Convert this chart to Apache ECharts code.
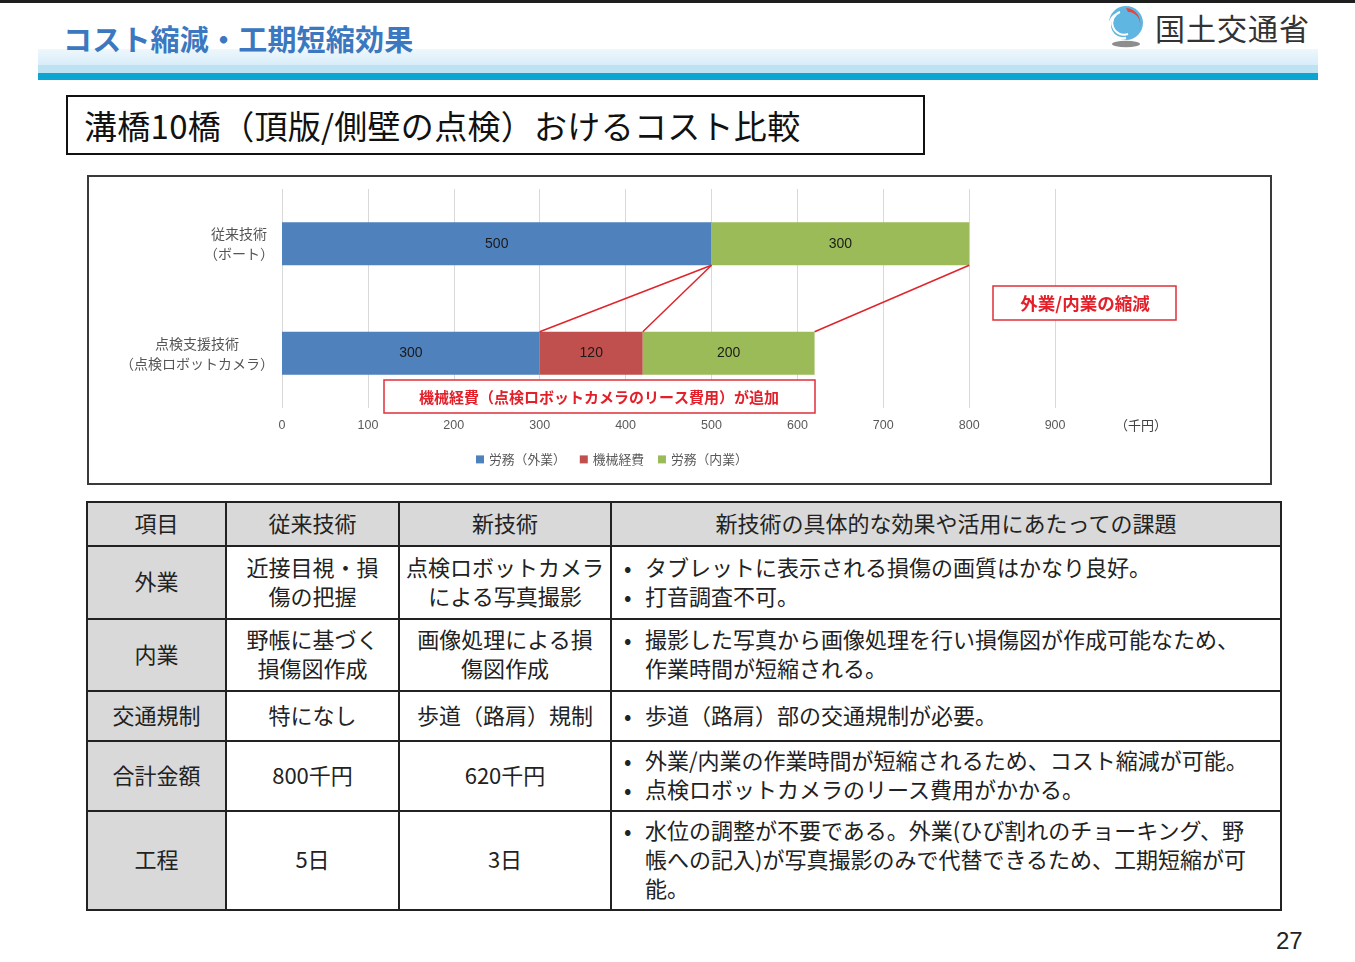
<!DOCTYPE html>
<html>
<head>
<meta charset="utf-8">
<script src="https://cdn.jsdelivr.net/npm/echarts@6/dist/echarts.min.js"></script>
<style>
  html, body { margin:0; padding:0; background:#fff; }
  body { width:1355px; height:962px; position:relative; overflow:hidden; font-family:"Noto Sans CJK JP", sans-serif; color:#222; }
  .abs { position:absolute; }
  #topline { left:0; top:0; width:1355px; height:3px; background:#1e1e1e; }
  #band1 { left:38px; top:49px; width:1280px; height:16px; background:linear-gradient(#eef7fc,#d8edf9); }
  #band2 { left:38px; top:65px; width:1280px; height:8px; background:#bde3f2; }
  #band3 { left:38px; top:73px; width:1280px; height:7px; background:#0aa6d1; }
  #title { left:63px; top:20px; font-size:29px; font-weight:bold; color:#3b78c0; line-height:36px; white-space:nowrap; letter-spacing:0.2px; }
  #logoText { left:1155px; top:8px; font-size:30px; color:#333; line-height:38px; white-space:nowrap; letter-spacing:1px; }
  #logoIcon { left:1106px; top:3px; }
  #subBox { left:66px; top:95px; width:855px; height:56px; border:2px solid #111; }
  #subTitle { left:84px; top:102px; font-size:33px; line-height:46px; color:#111; white-space:nowrap; letter-spacing:0.3px; }
  #chartBox { left:87px; top:175px; width:1181px; height:306px; border:2px solid #3a3a3a; }
  #chart { left:0; top:0; width:1355px; height:962px; }
  table { position:absolute; left:86px; top:501px; border-collapse:collapse; table-layout:fixed; font-size:22px; color:#222; }
  td { border:2px solid #222; text-align:center; vertical-align:middle; line-height:29px; padding:0 0 4px 0; white-space:nowrap; }
  td.g { background:#d9d9d9; }
  td.t { text-align:left; }
  .b { position:relative; padding-left:33px; }
  .b::before { content:"•"; position:absolute; left:12px; top:0; }
  #page { left:1276px; top:926px; font-size:24px; line-height:30px; color:#222; font-family:"Liberation Sans", sans-serif; }
</style>
</head>
<body>
<div id="topline" class="abs"></div>
<div id="band1" class="abs"></div>
<div id="band2" class="abs"></div>
<div id="band3" class="abs"></div>
<div id="title" class="abs">コスト縮減・工期短縮効果</div>
<svg id="logoIcon" class="abs" width="42" height="46" viewBox="0 0 42 46">
  <circle cx="20" cy="20" r="17" fill="#5fb6e0"/>
  <path d="M9 12 A13 13 0 0 0 20 35" stroke="#fff" stroke-width="2.5" fill="none"/>
  <path d="M14 9 A11 11 0 0 0 22 31" stroke="#fff" stroke-width="2" fill="none"/>
  <path d="M20 5 A15 15 0 0 1 33 26 A12 12 0 0 0 22 9 Z" fill="#e8453c"/>
  <ellipse cx="20" cy="41" rx="14" ry="3.2" fill="#8e8e8e"/>
</svg>
<div id="logoText" class="abs">国土交通省</div>
<div id="subBox" class="abs"></div>
<div id="subTitle" class="abs">溝橋10橋（頂版/側壁の点検）おけるコスト比較</div>
<div id="chartBox" class="abs"></div>

<table id="tbl">
  <colgroup><col style="width:139px"><col style="width:173px"><col style="width:212px"><col style="width:670px"></colgroup>
  <tr style="height:44px"><td class="g">項目</td><td class="g">従来技術</td><td class="g">新技術</td><td class="g">新技術の具体的な効果や活用にあたっての課題</td></tr>
  <tr style="height:73px"><td class="g">外業</td><td>近接目視・損<br>傷の把握</td><td>点検ロボットカメラ<br>による写真撮影</td><td class="t"><div class="b">タブレットに表示される損傷の画質はかなり良好。</div><div class="b">打音調査不可。</div></td></tr>
  <tr style="height:72px"><td class="g">内業</td><td>野帳に基づく<br>損傷図作成</td><td>画像処理による損<br>傷図作成</td><td class="t"><div class="b">撮影した写真から画像処理を行い損傷図が作成可能なため、<br>作業時間が短縮される。</div></td></tr>
  <tr style="height:50px"><td class="g">交通規制</td><td>特になし</td><td>歩道（路肩）規制</td><td class="t"><div class="b">歩道（路肩）部の交通規制が必要。</div></td></tr>
  <tr style="height:70px"><td class="g">合計金額</td><td id="totOld">800千円</td><td id="totNew">620千円</td><td class="t"><div class="b">外業/内業の作業時間が短縮されるため、コスト縮減が可能。</div><div class="b">点検ロボットカメラのリース費用がかかる。</div></td></tr>
  <tr style="height:99px"><td class="g">工程</td><td>5日</td><td>3日</td><td class="t"><div class="b">水位の調整が不要である。外業(ひび割れのチョーキング、野<br>帳への記入)が写真撮影のみで代替できるため、工期短縮が可<br>能。</div></td></tr>
</table>
<div id="page" class="abs">27</div>
<div id="chart" class="abs"></div>

<script>
// ---- data ----
const categories = ['従来技術\n（ボート）', '点検支援技術\n（点検ロボットカメラ）'];
const seriesNames = ['労務（外業）', '機械経費', '労務（内業）'];
const fieldWork = [500, 300];      // 労務（外業）
const machineCost = ['-', 120];    // 機械経費
const officeWork = [300, 200];     // 労務（内業）
const xTickMax = 1000;
const xTickStep = 100;
const unitLabel = '（千円）';
const noteAdded = '機械経費（点検ロボットカメラのリース費用）が追加';
const noteReduced = '外業/内業の縮減';

const num = v => (typeof v === 'number' ? v : 0);
const totals = categories.map((_, i) => num(fieldWork[i]) + num(machineCost[i]) + num(officeWork[i]));
document.getElementById('totOld').textContent = totals[0] + '千円';
document.getElementById('totNew').textContent = totals[1] + '千円';

// connector lines: [x on top bar (bottom edge), x on lower bar (top edge)]
const connectors = [
  [num(fieldWork[0]), num(fieldWork[1])],
  [num(fieldWork[0]), num(fieldWork[1]) + num(machineCost[1])],
  [totals[0], totals[1]]
];

const BAR_W = 43;
const FONT = '"Noto Sans CJK JP", sans-serif';
const NUMFONT = '"Liberation Sans", Arial, sans-serif';
const colors = ['#4f81bd', '#c0504d', '#9bbb59'];

const chart = echarts.init(document.getElementById('chart'), null, { renderer: 'canvas' });

const barSeries = [fieldWork, machineCost, officeWork].map((arr, i) => ({
  name: seriesNames[i],
  type: 'bar',
  stack: 'total',
  barWidth: BAR_W,
  data: arr,
  itemStyle: { color: colors[i] },
  label: { show: true, position: 'inside', color: '#1a1a1a', fontSize: 14, fontFamily: NUMFONT },
  emphasis: { disabled: true },
  z: 2
}));

chart.setOption({
  animation: false,
  backgroundColor: 'transparent',
  textStyle: { fontFamily: FONT },
  grid: { left: 282, top: 189, width: 859, height: 219, containLabel: false, outerBoundsMode: 'none' },
  legend: {
    data: seriesNames,
    left: 471, top: 448,
    icon: 'rect', itemWidth: 8, itemHeight: 8, itemGap: 14,
    textStyle: { fontSize: 12.8, color: '#595959', fontFamily: FONT },
    selectedMode: false
  },
  xAxis: {
    type: 'value', min: 0, max: xTickMax, interval: xTickStep,
    axisLine: { show: false }, axisTick: { show: false },
    splitLine: { show: true, showMaxLine: false, lineStyle: { color: '#d9d9d9', width: 1 } },
    axisLabel: {
      margin: 11, fontSize: 12.5, color: '#595959', fontFamily: NUMFONT,
      formatter: v => (v === xTickMax ? '{u|' + unitLabel + '}' : String(v)),
      rich: { u: { fontSize: 13, color: '#404040', fontFamily: FONT } }
    }
  },
  yAxis: {
    type: 'category', data: categories, inverse: true,
    axisLine: { show: false }, axisTick: { show: false },
    axisLabel: {
      margin: 8, align: 'right',
      formatter: v => v.split('\n').map(s => '{c|' + s + '}').join('\n'),
      rich: { c: { align: 'center', fontSize: 14, lineHeight: 20, color: '#555', fontFamily: FONT } }
    }
  },
  series: barSeries.concat([{
    type: 'custom',
    name: 'connector',
    silent: true,
    clip: false,
    z: 5,
    encode: { x: [0, 2], y: 1 },
    data: connectors.map(c => [c[0], 0, c[1]]),
    renderItem: (params, api) => {
      const p0 = api.coord([api.value(0), 0]);
      const p1 = api.coord([api.value(2), 1]);
      return {
        type: 'line',
        shape: { x1: p0[0], y1: p0[1] + BAR_W / 2, x2: p1[0], y2: p1[1] - BAR_W / 2 },
        style: { stroke: '#e0242c', lineWidth: 1.5 }
      };
    }
  }]),
  graphic: [
    { type: 'rect', z: 10, shape: { x: 384, y: 380, width: 431, height: 33 }, style: { fill: '#fff', stroke: '#e0303a', lineWidth: 1.5 } },
    { type: 'text', z: 11, x: 599, y: 397, style: { text: noteAdded, align: 'center', verticalAlign: 'middle', fill: '#e3202a', fontSize: 15, fontWeight: 'bold', fontFamily: FONT } },
    { type: 'rect', z: 10, shape: { x: 993, y: 286, width: 183, height: 34 }, style: { fill: '#fff', stroke: '#e0303a', lineWidth: 1.5 } },
    { type: 'text', z: 11, x: 1085, y: 303, style: { text: noteReduced, align: 'center', verticalAlign: 'middle', fill: '#e3202a', fontSize: 17.5, fontWeight: 'bold', fontFamily: FONT } }
  ]
});
</script>
</body>
</html>
